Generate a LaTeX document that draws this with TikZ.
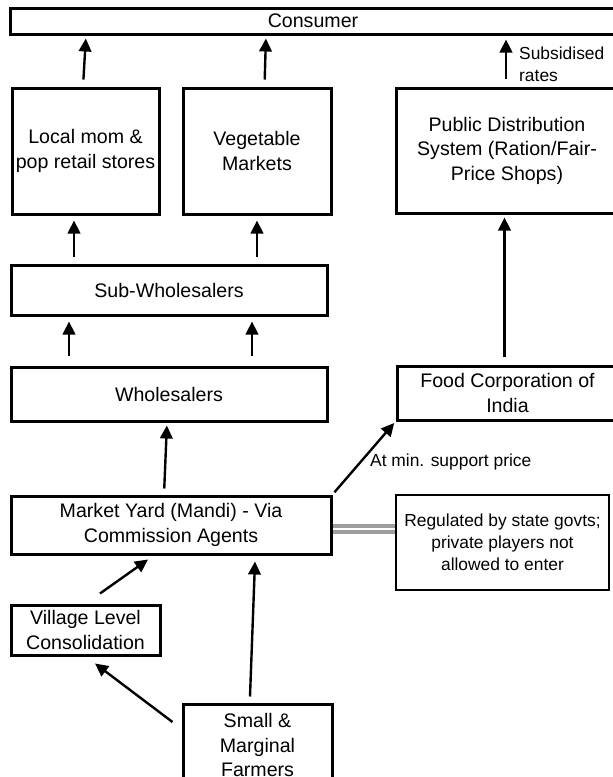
\documentclass[tikz,border=0pt]{standalone}
\usepackage{fontspec}
\setmainfont{Liberation Sans}
\usetikzlibrary{arrows.meta}
\begin{document}
\begin{tikzpicture}[x=1pt,y=-1pt,
  box/.style={draw=black, line width=3pt, fill=white, inner sep=0pt, align=center,
    font=\fontsize{19.6}{24.5}\selectfont},
  thinbox/.style={draw=black, line width=1.4pt, fill=white, inner sep=0pt, align=center,
    font=\fontsize{17.4}{22}\selectfont},
  lbl/.style={inner sep=0pt, align=left, font=\fontsize{17.4}{22}\selectfont},
  arr/.style={draw=black, line width=2.4pt, -{Triangle[length=13pt,width=12.5pt]}},
  dbl/.style={draw=black!38, line width=4.4pt, double=white, double distance=1.8pt}
]
\clip (0,0) rectangle (613,777);
\useasboundingbox (0,0) rectangle (613,777);
\fill[white] (0,0) rectangle (613,777);

\node[box, minimum width=606pt, minimum height=26pt] (consumer) at (313,21) {Consumer};
\node[box, minimum width=147pt, minimum height=126pt] (local) at (85.5,151) {Local mom \&\\pop retail stores};
\node[box, minimum width=148pt, minimum height=126pt] (veg) at (257,151) {Vegetable\\Markets};
\node[box, minimum width=221pt, minimum height=125pt] (pds) at (507,150.5) {Public Distribution\\System (Ration/Fair-\\Price Shops)};
\node[box, minimum width=316pt, minimum height=50pt] (sub) at (169,290) {Sub-Wholesalers};
\node[box, minimum width=316pt, minimum height=54pt] (whole) at (169,394) {Wholesalers};
\node[box, minimum width=221pt, minimum height=54pt] (fci) at (507.5,393) {Food Corporation of\\India};
\node[box, minimum width=320pt, minimum height=58pt] (mandi) at (171,525) {Market Yard (Mandi) - Via\\Commission Agents};
\node[thinbox, minimum width=213pt, minimum height=95pt] (reg) at (502.5,542.5) {Regulated by state govts;\\private players not\\allowed to enter};
\node[box, minimum width=149pt, minimum height=50pt] (village) at (85.5,630) {Village Level\\Consolidation};
\node[box, minimum width=149pt, minimum height=82pt] (farmers) at (257.5,745) {Small \&\\Marginal\\Farmers};

\node[lbl, anchor=west] (subs) at (519,64) {Subsidised\\rates};
\node[lbl, anchor=west] (msp) at (370,462) {At min. support price};

% arrows to consumer
\draw[arr, shorten <=7pt, shorten >=3pt] ([xshift=-2.5pt]local.north) -- ([xshift=0.5pt]local.north |- consumer.south);
\draw[arr, shorten <=7pt, shorten >=3pt] ([xshift=7.5pt]veg.north) -- ([xshift=9pt]veg.north |- consumer.south);
\draw[arr, shorten <=8pt, shorten >=4pt] ([xshift=-1pt]pds.north) -- ([xshift=-1pt]pds.north |- consumer.south);

% sub-wholesalers up
\draw[arr, shorten <=7pt, shorten >=5pt] ([xshift=-95pt]sub.north) -- ([xshift=-95pt]sub.north |- local.south);
\draw[arr, shorten <=7pt, shorten >=5pt] ([xshift=88pt]sub.north) -- ([xshift=88pt]sub.north |- veg.south);

% wholesalers up
\draw[arr, shorten <=10pt, shorten >=5pt] ([xshift=-100pt]whole.north) -- ([xshift=-100pt]whole.north |- sub.south);
\draw[arr, shorten <=10pt, shorten >=5pt] ([xshift=83pt]whole.north) -- ([xshift=83pt]whole.north |- sub.south);

% mandi
\draw[arr, shorten <=6pt, shorten >=3pt] ([xshift=-7pt]mandi.north) -- ([xshift=-4pt]mandi.north |- whole.south);
\draw[arr, shorten <=3pt, shorten >=2pt] (mandi.north east) -- (fci.south west);
\draw[arr, shorten <=8pt, shorten >=3pt] ([xshift=-3pt]fci.north) -- ([xshift=-3pt]fci.north |- pds.south);

% regulated link
\draw[dbl] ([yshift=-4pt]mandi.east) -- ([yshift=-4pt]mandi.east -| reg.west);

% bottom
\draw[arr] ([xshift=14.5pt,yshift=10pt]village.north) -- ([xshift=-23pt,yshift=-4pt]mandi.south);
\draw[arr] ([xshift=-9pt,yshift=23pt]farmers.west) -- ([xshift=9.5pt,yshift=-7pt]village.south);
\draw[arr] ([xshift=-7.5pt,yshift=6pt]farmers.north) -- ([xshift=84pt,yshift=-6pt]mandi.south);
\end{tikzpicture}
\end{document}
